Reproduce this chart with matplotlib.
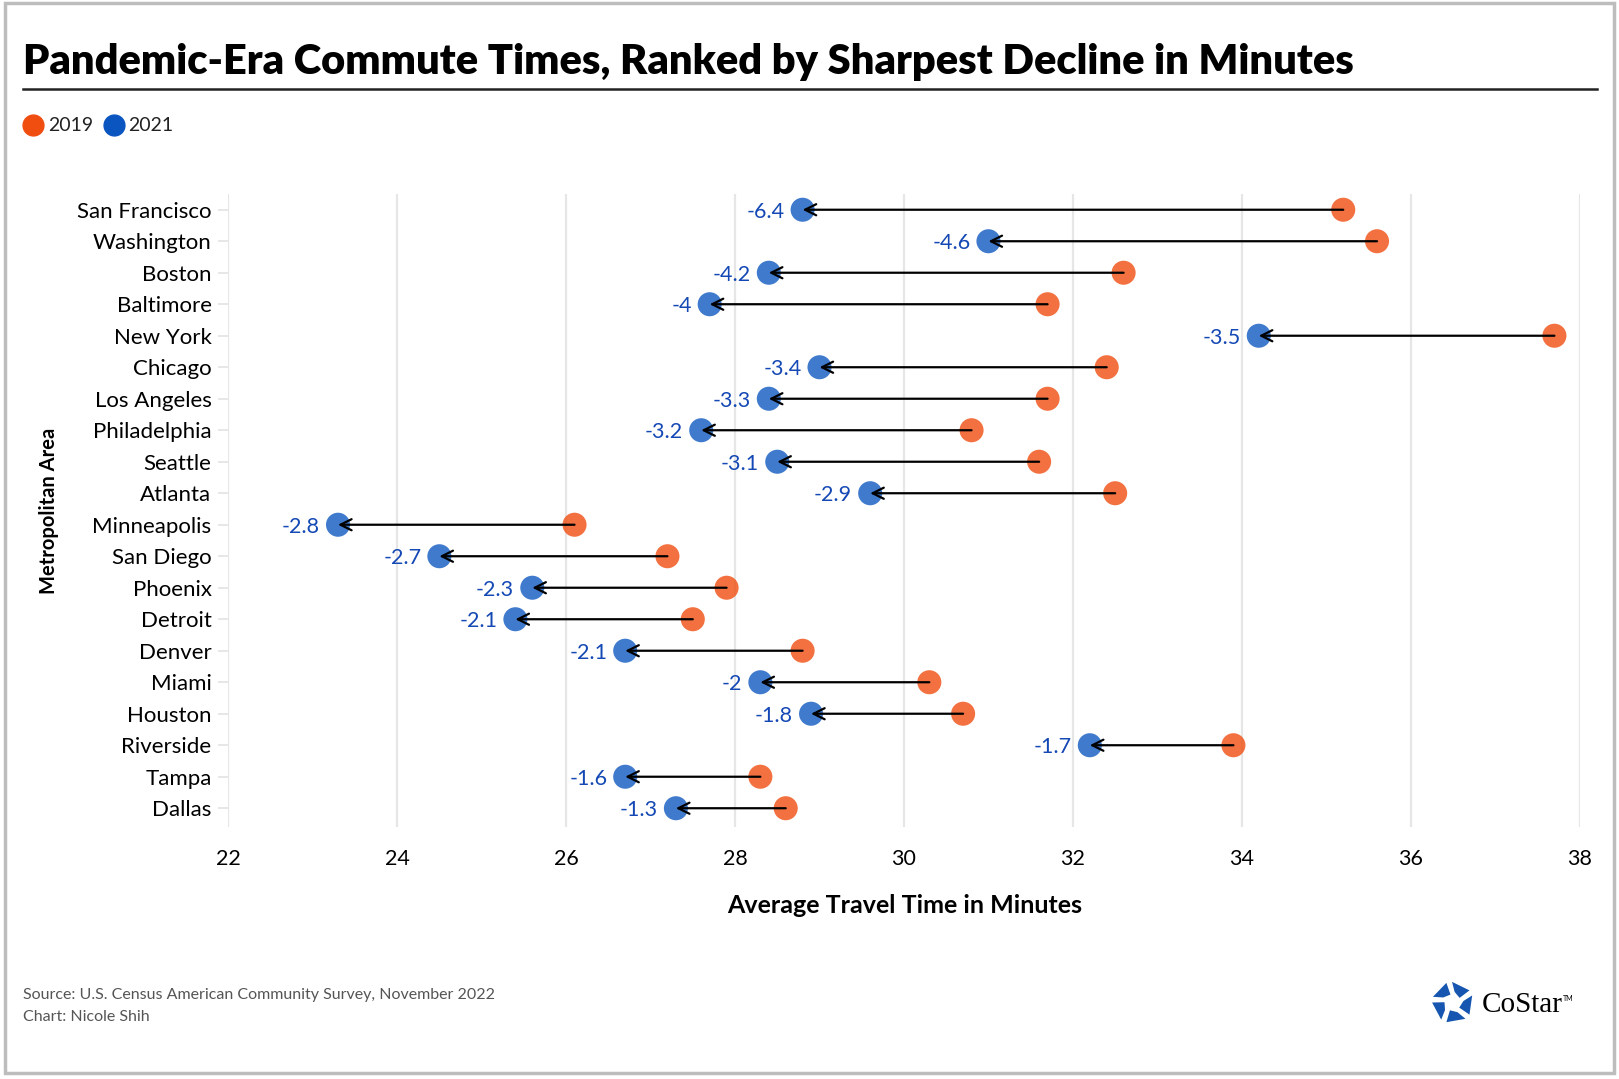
import matplotlib.pyplot as plt
import numpy as np
from matplotlib.patches import Rectangle, Polygon
from matplotlib.lines import Line2D

plt.rcParams['font.family'] = ['Lato', 'DejaVu Sans']

metros = ['San Francisco', 'Washington', 'Boston', 'Baltimore', 'New York',
          'Chicago', 'Los Angeles', 'Philadelphia', 'Seattle', 'Atlanta',
          'Minneapolis', 'San Diego', 'Phoenix', 'Detroit', 'Denver',
          'Miami', 'Houston', 'Riverside', 'Tampa', 'Dallas']
t2019 = [35.2, 35.6, 32.6, 31.7, 37.7, 32.4, 31.7, 30.8, 31.6, 32.5,
         26.1, 27.2, 27.9, 27.5, 28.8, 30.3, 30.7, 33.9, 28.3, 28.6]
t2021 = [28.8, 31.0, 28.4, 27.7, 34.2, 29.0, 28.4, 27.6, 28.5, 29.6,
         23.3, 24.5, 25.6, 25.4, 26.7, 28.3, 28.9, 32.2, 26.7, 27.3]
change = ['-6.4', '-4.6', '-4.2', '-4', '-3.5', '-3.4', '-3.3', '-3.2', '-3.1', '-2.9',
          '-2.8', '-2.7', '-2.3', '-2.1', '-2.1', '-2', '-1.8', '-1.7', '-1.6', '-1.3']
xticks = [22, 24, 26, 28, 30, 32, 34, 36, 38]

orange = '#F04E10'
blue = '#0A55C0'
W, H = 1568.0, 1044.0

def fx(x):
    return x / W

def fy(y):
    return 1 - y / H

fig = plt.figure(figsize=(16.19, 10.79), dpi=100)

# outer frame
fig.add_artist(Rectangle((fx(5), fy(1038)), fx(1563) - fx(5), fy(3) - fy(1038),
                         transform=fig.transFigure, fill=False, edgecolor='#BDBDBD', lw=2.5))

# title + rule
fig.text(fx(22), fy(72), 'Pandemic-Era Commute Times, Ranked by Sharpest Decline in Minutes',
         fontsize=30, fontweight='heavy', ha='left', va='baseline', color='black')
fig.add_artist(Line2D([fx(22), fx(1547)], [fy(86), fy(86)], transform=fig.transFigure,
                      color='#222222', lw=1.8))

# legend
for cx, tx, col, lab in [(32, 47, orange, '2019'), (110, 124, blue, '2021')]:
    fig.add_artist(Line2D([fx(cx)], [fy(121)], transform=fig.transFigure, marker='o',
                          markersize=15, color=col, lw=0))
    fig.text(fx(tx), fy(121), lab, fontsize=14, ha='left', va='center', color='#222222')

ax = fig.add_axes([fx(221), fy(800), fx(1530) - fx(221), fy(188) - fy(800)])
y = np.arange(len(metros))

ax.scatter(t2019, y, s=300, color=orange, alpha=0.8, edgecolors='none', zorder=3)
ax.scatter(t2021, y, s=300, color=blue, alpha=0.78, edgecolors='none', zorder=3)
for i in range(len(metros)):
    ax.annotate('', xy=(t2021[i], y[i]), xytext=(t2019[i], y[i]),
                arrowprops=dict(arrowstyle='->', color='black', lw=1.6,
                                shrinkA=0, shrinkB=0, mutation_scale=20), zorder=4)
    ax.annotate(change[i], xy=(t2021[i], y[i]), xytext=(-13, 0), textcoords='offset points',
                ha='right', va='center_baseline', fontsize=15.5, color='#1448B4')

ax.set_xlim(22, 38)
ax.set_ylim(len(metros) - 0.41, -0.49)
ax.set_xticks(xticks)
ax.set_xticklabels([str(v) for v in xticks], fontsize=15.5)
ax.set_yticks(y)
ax.set_yticklabels(metros, fontsize=16)
ax.tick_params(axis='x', length=0, pad=16)
ax.tick_params(axis='y', length=7, width=1.2, color='#E3E3E3', pad=5)
ax.grid(axis='x', color='#E6E6E6', lw=1.6, zorder=0)
ax.set_axisbelow(True)
for s in ax.spines.values():
    s.set_visible(False)

fig.text(fx(876), fy(876), 'Average Travel Time in Minutes', fontsize=18,
         fontweight='bold', ha='center', va='center')
fig.text(fx(47), fy(494), 'Metropolitan Area', fontsize=14.5, fontweight='bold',
         rotation=90, ha='center', va='center')

# footer
fig.text(fx(22), fy(963), 'Source: U.S. Census American Community Survey, November 2022',
         fontsize=11.5, color='#555555', ha='left', va='center')
fig.text(fx(22), fy(984), 'Chart: Nicole Shih', fontsize=11.5, color='#555555',
         ha='left', va='center')

# logo: pinwheel of five blocks
lax = fig.add_axes([fx(1384), fy(992), fx(1430) - fx(1384), fy(948) - fy(992)])
lax.set_xlim(-1.1, 1.1)
lax.set_ylim(-1.1, 1.1)
lax.set_aspect('equal')
lax.axis('off')

def pol(r, deg):
    return (r * np.cos(np.deg2rad(deg)), r * np.sin(np.deg2rad(deg)))

for k in range(5):
    a = 100 + 72 * k
    pts = [pol(1.0, a + 8), pol(1.0, a + 64), pol(0.52, a + 52), pol(0.4, a + 6)]
    lax.add_patch(Polygon(pts, closed=True, color='#1656B0', lw=0))
fig.text(fx(1435), fy(972), 'CoStar', fontsize=21, family='Liberation Serif',
         ha='left', va='center', color='black')
fig.text(fx(1514), fy(966), 'TM', fontsize=5, ha='left', va='center', color='black')

fig.savefig('out.png', dpi=100, facecolor='white')
